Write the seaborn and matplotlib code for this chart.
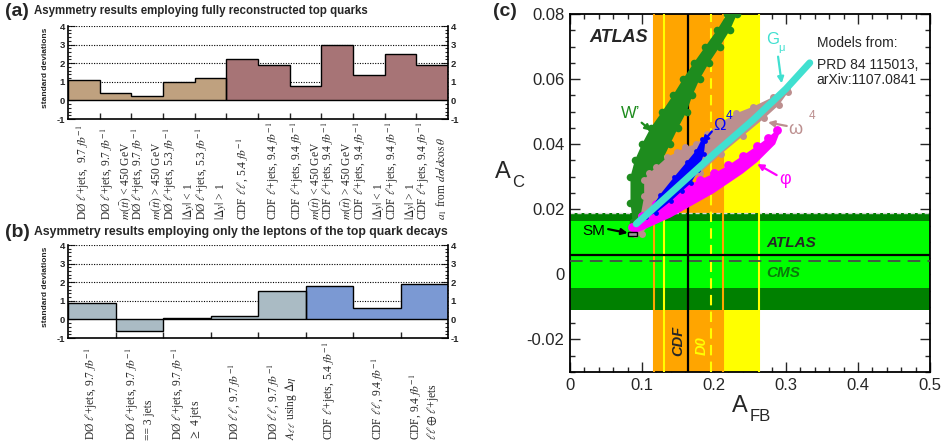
import numpy as np
import pandas as pd
import matplotlib
matplotlib.use("Agg")
import matplotlib.pyplot as plt
from matplotlib.transforms import blended_transform_factory
from matplotlib.ticker import MultipleLocator, FixedLocator, FixedFormatter
import seaborn as sns

# ---------------- data: panel (a) ----------------
a_values = [1.12, 0.40, 0.22, 0.99, 1.20, 2.23, 1.93, 0.76, 3.00, 1.39, 2.49, 1.93]
a_groups = ["D0"] * 5 + ["CDF"] * 7
a_labels = [
    "DØ $\\ell$+jets,  9.7 $fb^{-1}$",
    "DØ $\\ell$+jets, 9.7 $fb^{-1}$\n$m(t\\bar{t})$ < 450 GeV",
    "DØ $\\ell$+jets, 9.7 $fb^{-1}$\n$m(t\\bar{t})$ > 450 GeV",
    "DØ $\\ell$+jets, 5.3 $fb^{-1}$\n$|\\Delta y|$ < 1",
    "DØ $\\ell$+jets, 5.3 $fb^{-1}$\n$|\\Delta y|$ > 1",
    "CDF $\\ell\\ell$, 5.4 $fb^{-1}$",
    "CDF $\\ell$+jets, 9.4 $fb^{-1}$",
    "CDF $\\ell$+jets, 9.4 $fb^{-1}$\n$m(t\\bar{t})$ < 450 GeV",
    "CDF $\\ell$+jets, 9.4 $fb^{-1}$\n$m(t\\bar{t})$ > 450 GeV",
    "CDF $\\ell$+jets, 9.4 $fb^{-1}$\n$|\\Delta y|$ < 1",
    "CDF $\\ell$+jets, 9.4 $fb^{-1}$\n$|\\Delta y|$ > 1",
    "CDF $\\ell$+jets, 9.4 $fb^{-1}$\n$a_1$ from $d\\sigma/d\\cos\\theta$",
]
a_palette = {"D0": "#BFA17F", "CDF": "#A77476"}

# ---------------- data: panel (b) ----------------
b_values = [0.89, -0.64, 0.05, 0.20, 1.55, 1.80, 0.60, 1.89]
b_groups = ["D0"] * 5 + ["CDF"] * 3
b_labels = [
    "DØ $\\ell$+jets, 9.7 $fb^{-1}$",
    "DØ $\\ell$+jets, 9.7 $fb^{-1}$\n== 3 jets",
    "DØ $\\ell$+jets, 9.7 $fb^{-1}$\n$\\geq$ 4 jets",
    "DØ $\\ell\\ell$, 9.7 $fb^{-1}$",
    "DØ $\\ell\\ell$, 9.7 $fb^{-1}$\n$A_{\\ell\\ell}$ using $\\Delta\\eta$",
    "CDF $\\ell$+jets, 5.4 $fb^{-1}$",
    "CDF $\\ell\\ell$, 9.4 $fb^{-1}$",
    "CDF, 9.4 $fb^{-1}$\n$\\ell\\ell\\oplus\\ell$+jets",
]
b_palette = {"D0": "#AABBC4", "CDF": "#7B99D3"}

sd_ticks = [-1, 0, 1, 2, 3, 4]
sd_grid = [1, 2, 3, 4]

# ---------------- data: panel (c) ----------------
cdf_afb, cdf_lo, cdf_hi = 0.164, 0.116, 0.212
d0_afb, d0_lo, d0_hi = 0.196, 0.130, 0.262
atlas_ac, atlas_lo, atlas_hi = 0.006, -0.0042, 0.0165
cms_ac, cms_lo, cms_hi = 0.004, -0.011, 0.019
sm_x = [0.081, 0.0935]
sm_y = [0.0118, 0.0131]

wp_x = [0.087, 0.084, 0.084, 0.090, 0.100, 0.112, 0.128, 0.143, 0.157, 0.172, 0.188, 0.204, 0.218, 0.225,
        0.237, 0.232, 0.222, 0.208, 0.193, 0.180, 0.170, 0.162, 0.150, 0.139, 0.128, 0.118, 0.108, 0.100, 0.093]
wp_y = [0.016, 0.022, 0.030, 0.035, 0.040, 0.045, 0.050, 0.055, 0.060, 0.065, 0.070, 0.075, 0.080, 0.083,
        0.083, 0.080, 0.075, 0.070, 0.065, 0.060, 0.055, 0.050, 0.045, 0.040, 0.035, 0.030, 0.025, 0.020, 0.016]

om_x = [0.090, 0.098, 0.103, 0.103, 0.110, 0.120, 0.135, 0.148, 0.160, 0.175, 0.190, 0.208, 0.231, 0.254,
        0.282, 0.301, 0.303, 0.290, 0.270, 0.240, 0.210, 0.180, 0.150, 0.120, 0.100]
om_y = [0.0125, 0.018, 0.024, 0.029, 0.031, 0.033, 0.036, 0.0375, 0.039, 0.040, 0.043, 0.0465, 0.0495, 0.0515,
        0.0545, 0.0573, 0.056, 0.052, 0.048, 0.0425, 0.037, 0.031, 0.025, 0.018, 0.0125]

bOm_x = [0.105, 0.125, 0.145, 0.162, 0.175, 0.183, 0.188, 0.186, 0.178, 0.168, 0.155, 0.140, 0.120]
bOm_y = [0.0175, 0.0245, 0.030, 0.0345, 0.038, 0.0415, 0.041, 0.037, 0.032, 0.028, 0.0255, 0.0225, 0.019]

phi_top_x = [0.086, 0.100, 0.120, 0.140, 0.160, 0.180, 0.200, 0.220, 0.240, 0.260, 0.275, 0.288]
phi_top_y = [0.0145, 0.018, 0.0215, 0.0245, 0.027, 0.029, 0.031, 0.0335, 0.0365, 0.0395, 0.042, 0.0445]
phi_bot_x = [0.292, 0.285, 0.260, 0.240, 0.220, 0.200, 0.180, 0.160, 0.140, 0.120, 0.100, 0.088]
phi_bot_y = [0.044, 0.040, 0.0345, 0.031, 0.028, 0.025, 0.0225, 0.020, 0.0175, 0.0155, 0.0135, 0.0125]

gmu_x = [0.092, 0.130, 0.200, 0.254, 0.300, 0.333]
gmu_y = [0.0155, 0.023, 0.037, 0.0474, 0.057, 0.065]

c_xticks = [0, 0.1, 0.2, 0.3, 0.4, 0.5]
c_xticklabels = ["0", "0.1", "0.2", "0.3", "0.4", "0.5"]
c_yticks = [-0.02, 0, 0.02, 0.04, 0.06, 0.08]
c_yticklabels = ["-0.02", "0", "0.02", "0.04", "0.06", "0.08"]

# ---------------- style ----------------
sns.set_style("ticks")
plt.rcParams["font.family"] = ["Liberation Sans", "DejaVu Sans"]
plt.rcParams["mathtext.fontset"] = "stix"

W, H = 943, 444
fig = plt.figure(figsize=(W / 100, H / 100), dpi=100)


def fx(px):
    return px / W


def fy(py):
    return 1 - py / H


SERIF = ["Liberation Serif", "DejaVu Serif"]


def hist_panel(ax, labels, values, groups, palette, label_bottom):
    n = len(values)
    df = pd.DataFrame({"bin": [f"b{i}" for i in range(n)], "value": values, "group": groups})
    sns.barplot(data=df, x="bin", y="value", hue="group", palette=palette, width=1.0,
                dodge=False, legend=False, ax=ax, saturation=1, linewidth=0,
                errorbar=None, zorder=2)
    edges = np.arange(n + 1) - 0.5
    start = 0
    for i in range(1, n + 1):
        if i == n or groups[i] != groups[start]:
            ax.stairs(values[start:i], edges[start:i + 1], baseline=0, color="black",
                      lw=1.0, zorder=3)
            start = i
    for g in sd_grid:
        ax.axhline(g, color="black", lw=0.8, ls=(0, (1, 1.3)), zorder=1)
    ax.axhline(0, color="black", lw=1.0, zorder=3)
    ax.set_xlim(-0.5, n - 0.5)
    ax.set_ylim(-1, 4)
    ax.set_xticks(edges[1:-1])
    ax.set_xticklabels([])
    ax.set_xlabel("")
    ax.set_yticks(sd_ticks)
    ax.set_yticklabels([str(t) for t in sd_ticks])
    ax.yaxis.set_minor_locator(MultipleLocator(0.2))
    ax.tick_params(axis="x", which="major", direction="in", length=4, width=1, bottom=True)
    ax.tick_params(axis="y", which="both", direction="in", left=True, right=True,
                   labelleft=True, labelright=True, width=0.8, pad=2)
    ax.tick_params(axis="y", which="major", length=5)
    ax.tick_params(axis="y", which="minor", length=2.5)
    for lab in ax.get_yticklabels():
        lab.set_fontsize(6.8)
        lab.set_fontweight("bold")
    ax.spines["top"].set_visible(False)
    for s in ["left", "right", "bottom"]:
        ax.spines[s].set_color("black")
        ax.spines[s].set_linewidth(1.2)
    ax.set_ylabel("standard deviations", fontsize=6, fontweight="bold")
    ax.yaxis.set_label_coords(-0.05, 0.55)
    trans = blended_transform_factory(ax.transData, ax.transAxes)
    for i, lab in enumerate(labels):
        ax.text(i, label_bottom, lab, rotation=90, ha="center", va="bottom",
                multialignment="left", fontsize=8.3, family=SERIF, transform=trans,
                clip_on=False)


# panel (a)
ax_a = fig.add_axes([fx(68), fy(119), fx(448) - fx(68), fy(26) - fy(119)])
hist_panel(ax_a, a_labels, a_values, a_groups, a_palette, -(220 - 119) / 93)
fig.text(fx(5), fy(12), "(a)", fontsize=14, fontweight="bold", va="center", ha="left")
fig.text(fx(34), fy(11), "Asymmetry results employing fully reconstructed top quarks",
         fontsize=8.3, fontweight="bold", va="center", ha="left")

# panel (b)
ax_b = fig.add_axes([fx(68), fy(338), fx(448) - fx(68), fy(245) - fy(338)])
hist_panel(ax_b, b_labels, b_values, b_groups, b_palette, -(440 - 338) / 93)
fig.text(fx(5), fy(232), "(b)", fontsize=14, fontweight="bold", va="center", ha="left")
fig.text(fx(34), fy(232), "Asymmetry results employing only the leptons of the top quark decays",
         fontsize=8.8, fontweight="bold", va="center", ha="left")

# panel (c)
axc = fig.add_axes([fx(570), fy(372), fx(930) - fx(570), fy(14) - fy(372)])
axc.set_xlim(0, 0.5)
axc.set_ylim(-0.03, 0.08)

axc.axvspan(d0_lo, d0_hi, color="#FFFF00", lw=0, zorder=1)
axc.axvspan(cdf_lo, cdf_hi, color="#FFA500", lw=0, zorder=1.1)
axc.axhspan(cms_lo, cms_hi, color="#008000", lw=0, zorder=2)
axc.axhspan(atlas_lo, atlas_hi, color="#00FF00", lw=0, zorder=2.1)
axc.axhline(cms_hi, color="#d8d8d8", lw=1.0, ls=(0, (3, 2)), zorder=2.2)

for xv in [cdf_lo, cdf_hi]:
    axc.axvline(xv, color="#FFA500", lw=1.5, zorder=3)
for xv in [d0_lo, d0_hi]:
    axc.axvline(xv, color="#FFFF00", lw=1.5, zorder=3)
axc.axvline(d0_afb, color="#FFFF00", lw=1.5, ls=(0, (5, 3)), zorder=3)
axc.axvline(cdf_afb, color="black", lw=1.6, zorder=3.2)
axc.axhline(atlas_ac, color="black", lw=1.6, zorder=3.1)
axc.axhline(cms_ac, color="#4a4a4a", lw=1.3, ls=(0, (7, 4)), zorder=3.1)

# W' model
axc.fill(wp_x, wp_y, color="#1E8C1E", lw=0, zorder=4)
sns.scatterplot(x=wp_x, y=wp_y, s=30, color="#1E8C1E", linewidth=0, ax=axc, zorder=4, legend=False)
# omega^4 model
axc.fill(om_x, om_y, color="#BC8F8F", lw=0, zorder=5)
sns.scatterplot(x=om_x, y=om_y, s=25, color="#BC8F8F", linewidth=0, ax=axc, zorder=5, legend=False)
# phi model
axc.fill(phi_top_x + phi_bot_x, phi_top_y + phi_bot_y, color="#FF00FF", lw=0, zorder=6)
sns.scatterplot(x=phi_top_x, y=phi_top_y, s=40, color="#FF00FF", linewidth=0, ax=axc, zorder=6, legend=False)
# Omega^4 model
axc.fill(bOm_x, bOm_y, color="#0000FF", lw=0, zorder=7)
sns.scatterplot(x=bOm_x, y=bOm_y, s=12, color="#0000FF", linewidth=0, ax=axc, zorder=7, legend=False)
# G_mu model
sns.lineplot(x=gmu_x, y=gmu_y, sort=False, estimator=None, color="#40E0D0", lw=5,
             solid_capstyle="round", ax=axc, zorder=8)
# SM
axc.fill([sm_x[0], sm_x[1], sm_x[1], sm_x[0]], [sm_y[0], sm_y[0], sm_y[1], sm_y[1]],
         facecolor="#999999", edgecolor="black", lw=1.0, zorder=9)


def arrow(start, end, color):
    axc.annotate("", xy=end, xytext=start, zorder=10,
                 arrowprops=dict(arrowstyle="-|>", color=color, lw=1.6, mutation_scale=9,
                                 shrinkA=0, shrinkB=0))


fs = 12
axc.text(0.0847, 0.0495, "W\u2019", color="#1E8C1E", fontsize=fs, ha="center", va="center", zorder=10)
arrow((0.0995, 0.0466), (0.113, 0.0441), "#1E8C1E")
axc.text(0.281, 0.0722, "G", color="#40E0D0", fontsize=fs, ha="center", va="center", zorder=10)
axc.text(0.2935, 0.0695, "\u03bc", color="#40E0D0", fontsize=8, ha="center", va="center", zorder=10)
arrow((0.289, 0.0669), (0.294, 0.0587), "#40E0D0")
axc.text(0.3125, 0.0445, "\u03c9", color="#BC8F8F", fontsize=fs + 1, ha="center", va="center", zorder=10)
axc.text(0.3355, 0.0486, "4", color="#BC8F8F", fontsize=8.5, ha="center", va="center", zorder=10)
arrow((0.301, 0.0456), (0.275, 0.0467), "#BC8F8F")
axc.text(0.207, 0.0456, "\u03a9", color="#0000FF", fontsize=fs, ha="center", va="center", zorder=10)
axc.text(0.2215, 0.0486, "4", color="#0000FF", fontsize=8.5, ha="center", va="center", zorder=10)
arrow((0.197, 0.0439), (0.184, 0.0405), "#0000FF")
axc.text(0.2986, 0.0293, "\u03c6", color="#FF00FF", fontsize=fs + 1, ha="center", va="center", zorder=10)
arrow((0.287, 0.0305), (0.260, 0.0339), "#FF00FF")
axc.text(0.0326, 0.0132, "SM", color="black", fontsize=11, ha="center", va="center", zorder=10)
arrow((0.053, 0.0139), (0.080, 0.0127), "black")

axc.text(0.068, 0.0728, "ATLAS", fontsize=13, fontweight="bold", fontstyle="italic",
         ha="center", va="center", zorder=10)
axc.text(0.272, 0.0097, "ATLAS", fontsize=11, fontweight="bold", fontstyle="italic",
         ha="left", va="center", zorder=10)
axc.text(0.272, 0.0004, "CMS", fontsize=11, fontweight="bold", fontstyle="italic", color="#0A7A0A",
         ha="left", va="center", zorder=10)
axc.text(0.1504, -0.0204, "CDF", fontsize=10.5, fontweight="bold", fontstyle="italic", rotation=90,
         ha="center", va="center", zorder=10)
axc.text(0.183, -0.0219, "D0", fontsize=10.5, fontweight="bold", fontstyle="italic", rotation=90,
         color="#FFFF00", ha="center", va="center", zorder=10)
axc.text(0.3426, 0.0710, "Models from:", fontsize=10, ha="left", va="center", zorder=10)
axc.text(0.3426, 0.0643, "PRD 84 115013,", fontsize=10, ha="left", va="center", zorder=10)
axc.text(0.3426, 0.0596, "arXiv:1107.0841", fontsize=10, ha="left", va="center", zorder=10)

axc.xaxis.set_major_locator(FixedLocator(c_xticks))
axc.xaxis.set_major_formatter(FixedFormatter(c_xticklabels))
axc.yaxis.set_major_locator(FixedLocator(c_yticks))
axc.yaxis.set_major_formatter(FixedFormatter(c_yticklabels))
axc.xaxis.set_minor_locator(MultipleLocator(0.02))
axc.yaxis.set_minor_locator(MultipleLocator(0.005))
axc.tick_params(which="both", direction="in", top=True, right=True, bottom=True, left=True,
                width=1.0, labelsize=12)
axc.tick_params(which="major", length=7, pad=4)
axc.tick_params(which="minor", length=3.5)
for s in axc.spines.values():
    s.set_color("black")
    s.set_linewidth(1.3)
axc.set_xlabel("")
axc.set_ylabel("")

fig.text(fx(740), fy(406), "A", fontsize=17, ha="center", va="center")
fig.text(fx(760), fy(416), "FB", fontsize=12, ha="center", va="center")
fig.text(fx(503), fy(172), "A", fontsize=17, ha="center", va="center")
fig.text(fx(518), fy(182), "C", fontsize=12, ha="center", va="center")
fig.text(fx(517), fy(12), "(c)", fontsize=14, fontweight="bold", ha="right", va="center")

fig.savefig("out.png", dpi=100)
